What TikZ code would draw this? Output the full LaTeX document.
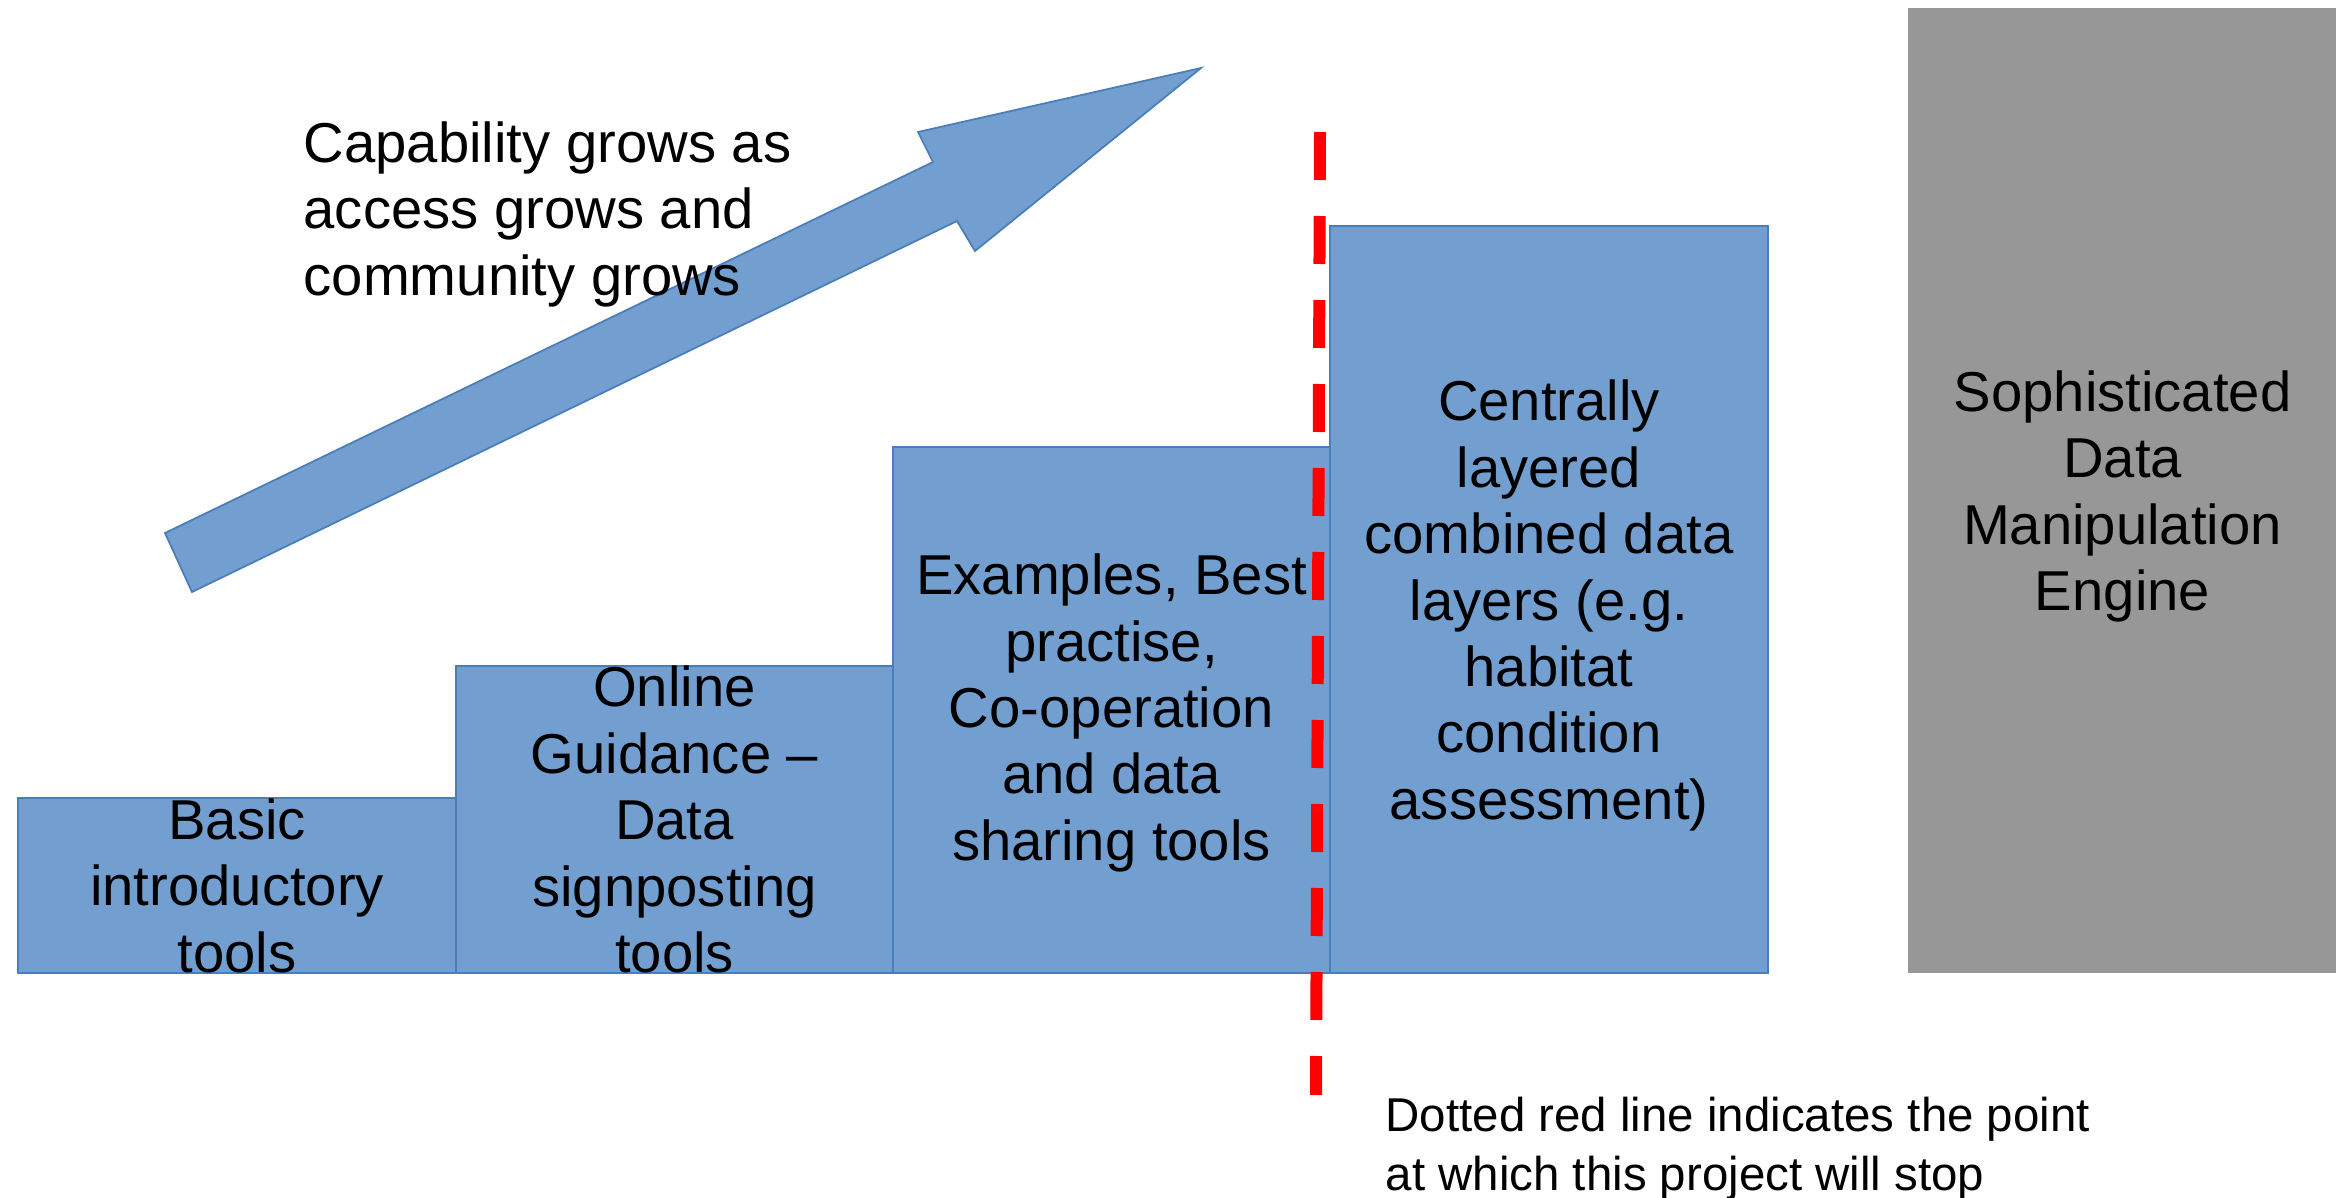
\documentclass[tikz,border=0pt]{standalone}
\usepackage{fontspec}
\setmainfont{Liberation Sans}
\usepackage{xcolor}
\usepackage{tikz}
\usetikzlibrary{positioning}

\definecolor{stepblue}{RGB}{114,159,207}
\definecolor{stepedge}{RGB}{74,126,187}
\definecolor{enginegray}{RGB}{151,151,151}

\begin{document}
\begin{tikzpicture}[
    stepbox/.style={draw=stepedge, fill=stepblue, line width=0.5pt, outer sep=0pt, inner sep=0pt, minimum width=4.37cm},
    steptext/.style={align=center, inner sep=0pt, font=\fontsize{16}{18.9}\selectfont},
    note/.style={align=left, inner sep=0pt, anchor=north west}
  ]
    \useasboundingbox (0,0) rectangle (23.36,11.97);

    % growth arrow
    \draw[fill=stepblue, draw=stepedge, line width=0.5pt]
      (1.65,6.64) -- (9.33,10.35) -- (9.18,10.65) -- (12.01,11.29)
      -- (9.75,9.46) -- (9.57,9.76) -- (1.92,6.05) -- cycle;
    \node (grow) [note, font=\fontsize{16}{18.9}\selectfont] at (3.03,10.76)
      {Capability grows as\\access grows and\\community grows};

    % the steps
    \node (basic) [stepbox, minimum width=4.38cm, minimum height=1.75cm, anchor=south west] at (0.18,2.24) {};
    \node (guidance) [stepbox, minimum height=3.07cm, anchor=south west] at (basic.south east) {};
    \node (examples) [stepbox, minimum height=5.26cm, anchor=south west] at (guidance.south east) {};
    \node (layers) [stepbox, minimum width=4.38cm, minimum height=7.47cm, anchor=south west] at (examples.south east) {};
    \node (engine) [fill=enginegray, inner sep=0pt, outer sep=0pt, minimum width=4.29cm, minimum height=9.65cm,
      right=1.40cm of layers.south east, anchor=south west] {};

    \node (basic-t) [steptext] at (basic.center) {Basic\\introductory\\tools};
    \node (guidance-t) [steptext] at (guidance.center) {Online\\Guidance –\\Data\\signposting\\tools};
    \node (examples-t) [steptext, yshift=-0.03cm] at (examples.center) {Examples, Best\\practise,\\Co-operation\\and data\\sharing tools};
    \node (layers-t) [steptext, yshift=-0.06cm] at (layers.center) {Centrally\\layered\\combined data\\layers (e.g.\\habitat\\condition\\assessment)};
    \node (engine-t) [steptext, yshift=-0.06cm] at (engine.center) {Sophisticated\\Data\\Manipulation\\Engine};

    % where the project stops
    \coordinate (stoptop) at (13.20,10.65);
    \coordinate (stopbot) at (13.16,1.02);
    \draw[red, line width=0.12cm, dash pattern=on 0.48cm off 0.36cm] (stoptop) -- (stopbot);
    \node (stopnote) [note, font=\fontsize{13.5}{16.8}\selectfont] at (13.85,1.01)
      {Dotted red line indicates the point\\at which this project will stop};
\end{tikzpicture}
\end{document}
